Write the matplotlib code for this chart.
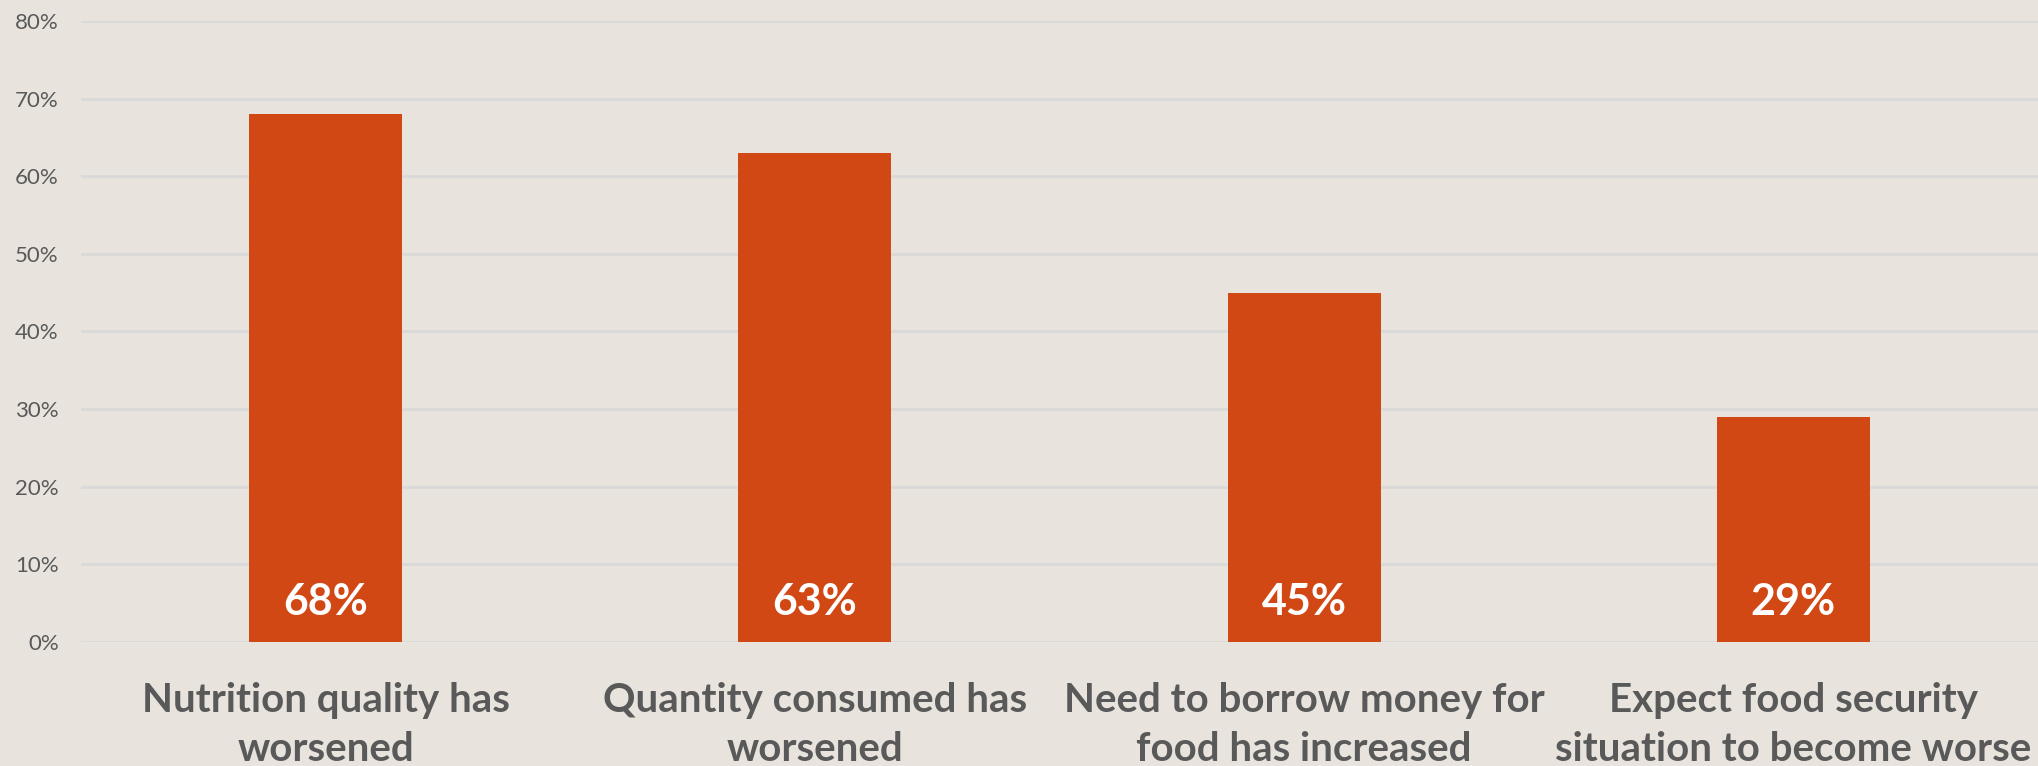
import matplotlib.pyplot as plt
from matplotlib.ticker import PercentFormatter

categories = ['Nutrition quality has\nworsened',
              'Quantity consumed has\nworsened',
              'Need to borrow money for\nfood has increased',
              'Expect food security\nsituation to become worse']
values = [68, 63, 45, 29]
yticks = [0, 10, 20, 30, 40, 50, 60, 70, 80]

bg = '#E8E4DD'
bar_color = '#D24815'
text_color = '#595959'

plt.rcParams['font.family'] = ['Lato', 'DejaVu Sans']

fig = plt.figure(figsize=(20.38, 7.66), dpi=100, facecolor=bg)
ax = fig.add_axes([0.0397, 0.1619, 0.9603, 0.8107], facecolor=bg)

x = range(len(categories))
bars = ax.bar(x, values, width=0.313, color=bar_color, zorder=3)

for b, v in zip(bars, values):
    ax.text(b.get_x() + b.get_width() / 2, 5.2, f'{v}%', ha='center', va='center',
            color='white', fontsize=31, fontweight='bold', zorder=4)

ax.set_xlim(-0.5, len(categories) - 0.5)
ax.set_ylim(0, 80)
ax.set_yticks(yticks)
ax.yaxis.set_major_formatter(PercentFormatter(decimals=0))
ax.grid(axis='y', color='#D9D9D9', linewidth=2, zorder=0)

ax.set_xticks(list(x))
ax.set_xticklabels(categories, fontsize=29, fontweight='bold', color=text_color,
                   linespacing=1.4)
ax.tick_params(axis='x', length=0, pad=29)
ax.tick_params(axis='y', length=0, pad=16, labelsize=16, labelcolor=text_color)

for s in ax.spines.values():
    s.set_visible(False)

fig.savefig('out.png', dpi=100, facecolor=bg)
